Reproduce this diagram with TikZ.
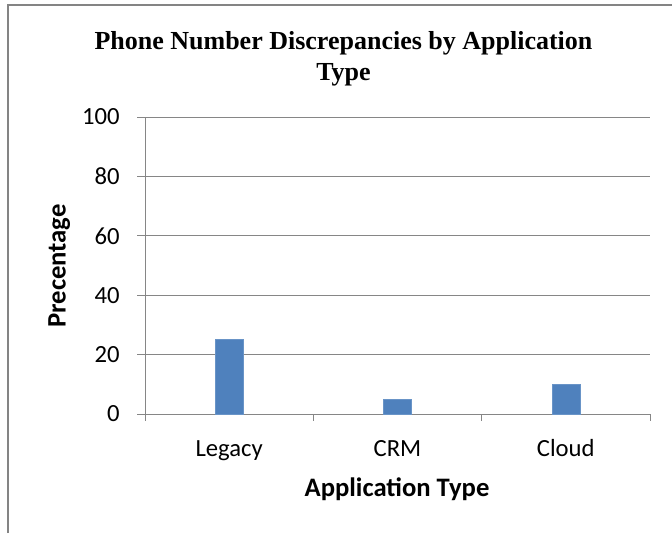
\documentclass[tikz,border=0pt]{standalone}
\usepackage{fontspec}
\setmainfont{Carlito}
\newfontfamily\titlefont{Liberation Serif}
\usepackage{tikz}
\usetikzlibrary{positioning}
\usepackage{xcolor}
\definecolor{gridgray}{HTML}{868686}
\definecolor{framegray}{HTML}{848484}
\definecolor{barblue}{HTML}{4F81BD}

\begin{document}
\begin{tikzpicture}[
    x = 0.75pt, y = -0.75pt,
    grid/.style = {draw=gridgray, line width=0.75pt},
    frame/.style = {draw=framegray, line width=1.6pt},
    bar/.style = {fill=barblue, draw=barblue!85!white, line width=0.4pt},
    ticklabel/.style = {font=\fontsize{18.5}{20}\selectfont, inner sep=0pt},
    axislabel/.style = {font=\fontsize{20}{22}\selectfont\bfseries, inner sep=0pt}
]
    \useasboundingbox (0,0) rectangle (672,533);
    \draw[frame] (8,533) -- (8,5) -- (672,5);

    \node[inner sep=0pt, align=center, anchor=north,
          font=\titlefont\fontsize{19.5}{22.7}\selectfont\bfseries] (title) at (343.5,31.5)
        {Phone Number Discrepancies by Application\\Type};

    % gridlines and y tick labels
    \foreach \v in {0,20,...,100} {
        \draw[grid] (137,414-2.97*\v) -- (650,414-2.97*\v);
        \node[ticklabel, anchor=east] (y\v) at (120,414-2.97*\v) {\v};
    }
    \draw[grid] (145,117) -- (145,421);
    \foreach \x in {313,481,650}
        \draw[grid] (\x,414) -- (\x,421);

    % bars
    \draw[bar] (215.2,414) rectangle (243.2,339.75);
    \draw[bar] (383.5,414) rectangle (411.5,399.15);
    \draw[bar] (551.8,414) rectangle (579.8,384.3);

    \node[ticklabel, anchor=base] (legacy) at (229.2,456) {Legacy};
    \node[ticklabel, anchor=base] (crm) at (397.5,456) {CRM};
    \node[ticklabel, anchor=base] (cloud) at (565.8,456) {Cloud};

    \node[axislabel, anchor=base] (xlabel) at (397,496) {Application Type};
    \node[axislabel, rotate=90, anchor=base] (ylabel) at (65.5,266) {Precentage};
\end{tikzpicture}
\end{document}
